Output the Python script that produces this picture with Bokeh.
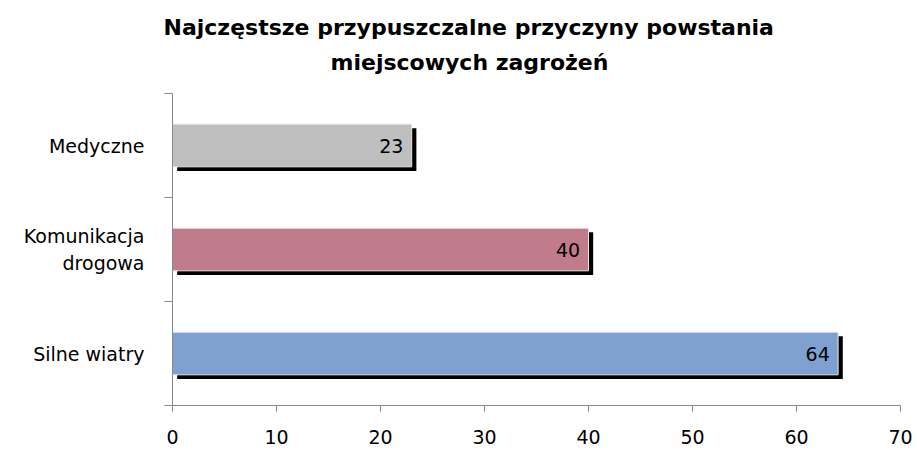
from bokeh.plotting import figure
from bokeh.models import ColumnDataSource, FixedTicker, Title, Range1d
from bokeh.transform import dodge
from bokeh.core.properties import value
from bokeh.embed import file_html
from bokeh.resources import INLINE

categories = ["Silne wiatry", "Komunikacja\ndrogowa", "Medyczne"]
values = [64, 40, 23]
colors = ["#7EA1D0", "#C07C8A", "#BFBFBF"]
x_ticks = [0, 10, 20, 30, 40, 50, 60, 70]

ypos = [i + 0.5 for i in range(len(categories))]
bounds = [i for i in range(len(categories) + 1)]
src = ColumnDataSource(dict(y=ypos, v=values, zero=[0] * len(values), c=colors,
                            lab=[str(v) for v in values]))

FONT = "DejaVu Sans"

p = figure(width=915, height=448, output_backend="svg", toolbar_location=None,
           x_range=Range1d(0, 70), y_range=Range1d(0, 3),
           min_border_left=172, min_border_right=15, min_border_bottom=43, min_border_top=93)
p.title = None
p.add_layout(Title(text="miejscowych zagrożeń", text_font=FONT, text_font_size="22px",
                   text_font_style="bold", align="left", offset=158, standoff=38,
                   text_color="#000000"), "above")
p.add_layout(Title(text="Najczęstsze przypuszczalne przyczyny powstania", text_font=FONT,
                   text_font_size="22px", text_font_style="bold", align="left", offset=-9,
                   standoff=-22, text_color="#000000"), "above")

bh = 0.41
# shadow
p.hbar(y=dodge("y", -0.04), left=dodge("zero", 0.45), right=dodge("v", 0.45), height=bh,
       fill_color="black", line_color=None, source=src)
# bars
p.hbar(y="y", left="zero", right="v", height=bh, fill_color="c", line_color="#E8E8E8",
       line_width=1, source=src)
p.text(x=dodge("v", -0.8), y="y", text="lab", source=src, text_align="right",
       text_baseline="middle", text_font=value(FONT), text_font_size="19px",
       text_color="black")

p.xgrid.visible = False
p.ygrid.visible = False
p.outline_line_color = None

ax = p.xaxis[0]
ax.ticker = FixedTicker(ticks=x_ticks)
ax.axis_line_color = "#888888"
ax.major_tick_line_color = "#888888"
ax.major_tick_out = 6
ax.major_tick_in = 0
ax.minor_tick_line_color = None
ax.major_label_text_font = FONT
ax.major_label_text_font_size = "19px"
ax.major_label_text_color = "black"
ax.major_label_standoff = 18

ay = p.yaxis[0]
ay.ticker = FixedTicker(ticks=ypos, minor_ticks=bounds)
ay.major_label_overrides = {y: c for y, c in zip(ypos, categories)}
ay.axis_line_color = "#888888"
ay.major_tick_line_color = None
ay.major_tick_out = 0
ay.major_tick_in = 0
ay.minor_tick_line_color = "#888888"
ay.minor_tick_out = 8
ay.minor_tick_in = 0
ay.major_label_text_font = FONT
ay.major_label_text_font_size = "19px"
ay.major_label_text_color = "black"
ay.major_label_standoff = 20

open("out.html", "w").write(file_html(p, INLINE))
